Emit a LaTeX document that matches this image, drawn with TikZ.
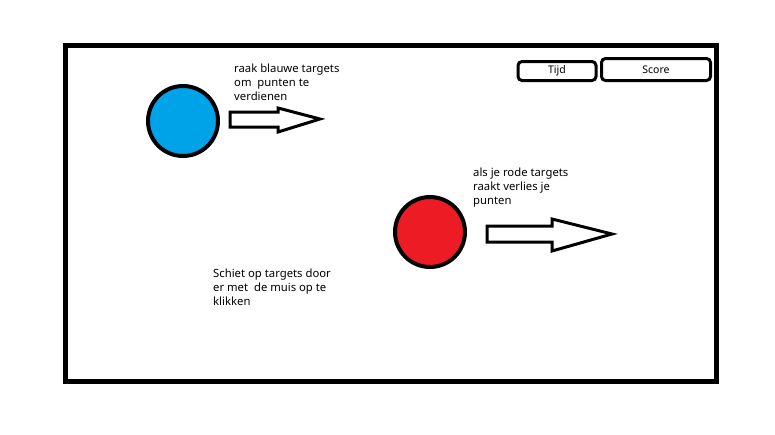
\documentclass[tikz,border=0pt]{standalone}
\usepackage{fontspec}
\setmainfont{Noto Sans}
\usepackage{xcolor}
\usetikzlibrary{positioning}
\definecolor{blauw}{HTML}{00A2E8}
\definecolor{rood}{HTML}{ED1C24}
\tikzset{
  uitleg/.style={anchor=north west,align=left,inner sep=0pt,font=\fontsize{11.3}{14}\selectfont},
  knop/.style={draw,line width=3pt,rounded corners=4pt,inner sep=0pt,font=\fontsize{10.5}{12}\selectfont},
  pijl/.style={draw,line width=3pt,fill=white,line join=miter},
}
\begin{document}
\begin{tikzpicture}[x=1pt,y=-1pt]
  \useasboundingbox[fill=white] (0,0) rectangle (775,434);
  \draw[line width=5pt] (65,45) rectangle (716,381);
  % knoppen rechtsboven
  \node[knop,minimum width=78pt,minimum height=19pt] (tijd) at (557,71) {Tijd};
  \node[knop,minimum width=109pt,minimum height=22pt] (score) at (656,69.5) {Score};
  % blauwe target
  \draw[line width=4pt,fill=blauw] (183,121) circle (35);
  \draw[pijl] (230,112) -- (278,112) -- (278,108) -- (320,119) -- (278,132)
    -- (278,127) -- (230,127) -- cycle;
  \node[uitleg] (blauwtekst) at (234,64) {raak blauwe targets\\om\ \ punten te\\verdienen};
  % rode target
  \draw[line width=4pt,fill=rood] (430,232) circle (35);
  \draw[pijl] (487,226) -- (552,226) -- (552,219) -- (612,234) -- (552,251)
    -- (552,242) -- (487,242) -- cycle;
  \node[uitleg] (roodtekst) at (473,168) {als je rode targets\\raakt verlies je\\punten};
  % uitleg schieten
  \node[uitleg] (schiettekst) at (213,269) {Schiet op targets door\\er met\ \ de muis op te\\klikken};
\end{tikzpicture}
\end{document}
